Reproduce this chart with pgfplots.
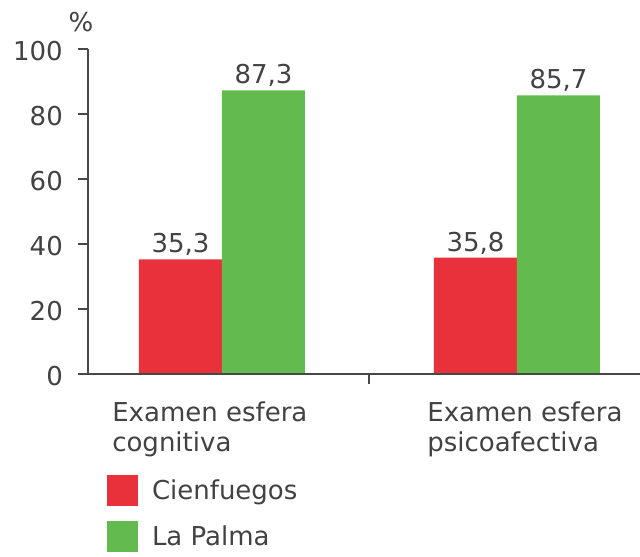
\documentclass[border=0pt]{standalone}
\usepackage{fontspec}
\setmainfont{DejaVu Sans}
\usepackage{pgfplots}
\pgfplotsset{compat=1.18}

\definecolor{txtgray}{HTML}{424242}
\definecolor{axgray}{HTML}{474747}
\definecolor{barred}{HTML}{E8313A}
\definecolor{bargreen}{HTML}{63BA4F}

\begin{document}
\begin{tikzpicture}[x=1bp,y=1bp,font=\fontsize{26bp}{30bp}\selectfont]
\path[use as bounding box] (0,0) rectangle (640,557);
\begin{axis}[
  at={(88bp,183bp)}, anchor=south west,
  scale only axis, width=552bp, height=325bp,
  xmin=-0.454, xmax=1.417, ymin=0, ymax=100,
  axis x line*=bottom,
  axis y line*=left,
  axis on top,
  axis line style={axgray, line width=1.8bp},
  every tick/.style={draw=axgray, line width=2bp},
  xtick align=outside, ytick align=outside,
  major tick length=10bp,
  ybar=0pt, bar width=83bp,
  ytick={0,20,40,60,80,100},
  /pgf/number format/assume math mode=true,
  yticklabel style={text=txtgray, inner sep=0pt, anchor=east, xshift=-15bp, yshift=-2.5bp},
  xtick={0.5}, xticklabels={},
  extra x ticks={-0.041,1.027},
  extra x tick labels={{Examen esfera\\cognitiva},{Examen esfera\\psicoafectiva}},
  extra x tick style={xtick style={draw=none}, grid=none},
  xticklabel style={text=txtgray, align=left, anchor=north, inner sep=0pt, yshift=-18bp},
  ylabel={\%},
  ylabel style={rotate=-90, at={(rel axis cs:0,1)}, anchor=base, inner sep=0pt,
    xshift=-7bp, yshift=17bp, text=txtgray},
  nodes near coords={\pgfmathprintnumber[use comma,fixed,fixed zerofill,precision=1]{\pgfplotspointmeta}},
  every node near coord/.append style={text=txtgray},
  legend style={at={(rel axis cs:0,0)}, anchor=north west, xshift=19bp, yshift=-101bp,
    draw=none, fill=none, inner sep=0pt, outer sep=0pt, row sep=15bp,
    nodes={inner sep=0pt, text=txtgray},
    /tikz/every odd column/.append style={column sep=14bp}},
  legend cell align=left,
  legend image code/.code={\fill[#1] (0bp,-15.5bp) rectangle (31bp,15.5bp);},
]
\addplot[fill=barred, draw=none] coordinates {(0,35.3) (1,35.8)};
\addplot[fill=bargreen, draw=none] coordinates {(0,87.3) (1,85.7)};
\legend{Cienfuegos, La Palma}
\end{axis}
\end{tikzpicture}
\end{document}
